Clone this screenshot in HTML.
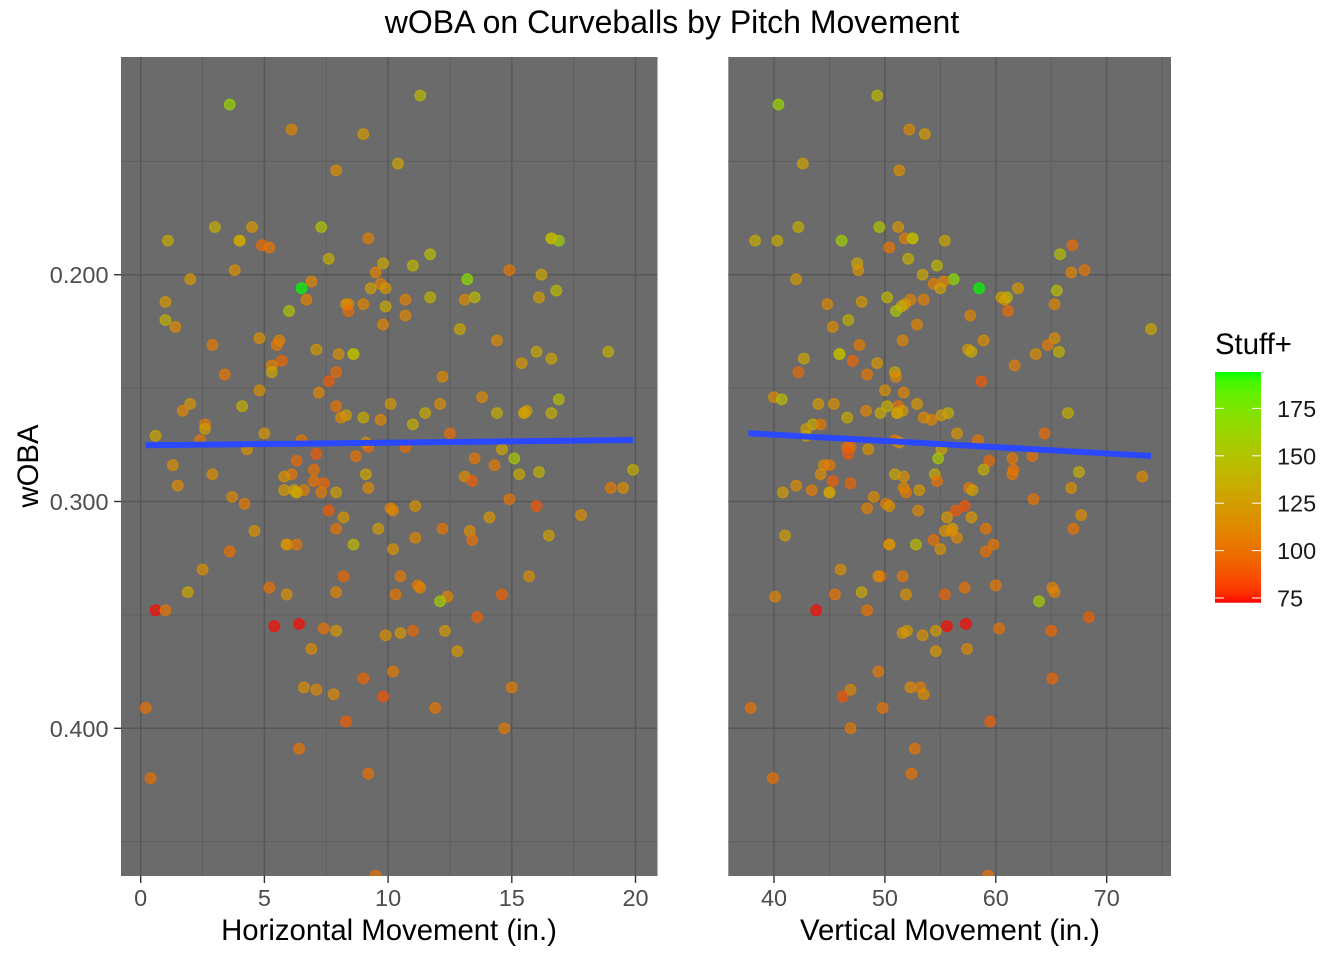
<!DOCTYPE html>
<html>
<head>
<meta charset="utf-8">
<title>wOBA on Curveballs by Pitch Movement</title>
<style>
html,body{margin:0;padding:0;background:#fff;width:1344px;height:960px;overflow:hidden}
svg{display:block}
text{font-family:"Liberation Sans",Arial,sans-serif}
</style>
</head>
<body>
<svg id="chart" width="1344" height="960" viewBox="0 0 1344 960" xmlns="http://www.w3.org/2000/svg">
  <defs>
    <clipPath id="clip-left"><rect x="121" y="57" width="536.5" height="819"/></clipPath>
    <clipPath id="clip-right"><rect x="728.3" y="57" width="442.7" height="819"/></clipPath>
    <linearGradient id="legend-gradient" x1="0" y1="1" x2="0" y2="0"></linearGradient>
  </defs>
  <rect x="0" y="0" width="1344" height="960" fill="#ffffff"/>
  <text x="672" y="33" font-size="32" text-anchor="middle" fill="#000">wOBA on Curveballs by Pitch Movement</text>
  <g id="panel-left">
    <rect x="121" y="57" width="536.5" height="819" fill="#6b6b6b"/>
    <g id="grid-left"></g>
    <g id="points-left" clip-path="url(#clip-left)"></g>
    <g id="trend-left" clip-path="url(#clip-left)"></g>
  </g>
  <g id="panel-right">
    <rect x="728.3" y="57" width="442.7" height="819" fill="#6b6b6b"/>
    <g id="grid-right"></g>
    <g id="points-right" clip-path="url(#clip-right)"></g>
    <g id="trend-right" clip-path="url(#clip-right)"></g>
  </g>
  <g id="axes"></g>
  <text x="0" y="0" transform="translate(38,466) rotate(-90)" font-size="29.33" text-anchor="middle" fill="#000">wOBA</text>
  <text x="389" y="940" font-size="29.33" text-anchor="middle" fill="#000">Horizontal Movement (in.)</text>
  <text x="950" y="940" font-size="29.33" text-anchor="middle" fill="#000">Vertical Movement (in.)</text>
  <g id="legend">
    <text x="1215" y="354" font-size="29.33" fill="#000">Stuff+</text>
    <rect x="1215" y="372" width="46" height="230.7" fill="url(#legend-gradient)"/>
  </g>
</svg>
<script>
var horizMovement = [
3.6,11.3,6.1,9.0,10.4,7.9,3.0,4.5,7.3,1.1,
4.0,4.0,16.9,9.2,16.6,16.6,4.9,5.2,7.6,11.7,
9.8,3.8,14.9,11.0,9.5,2.0,13.2,6.9,16.2,6.5,
9.7,9.3,9.9,16.8,6.7,10.7,13.1,1.0,8.3,8.4,
9.0,9.9,8.4,11.7,13.5,16.1,1.0,1.4,9.8,10.7,
6.0,12.9,4.8,14.4,5.6,5.5,2.9,7.1,16.0,18.9,
16.6,15.4,8.0,8.6,8.6,5.7,5.3,5.3,7.9,7.6,
12.2,3.4,4.8,7.2,13.8,16.9,2.0,10.1,12.1,7.9,
4.1,1.7,15.6,15.5,15.5,11.5,14.4,16.6,8.3,8.1,
9.0,9.7,11.0,2.6,2.6,0.6,5.0,12.5,2.4,6.5,
9.1,9.2,10.7,4.3,14.6,7.1,8.7,13.5,15.1,6.3,
1.3,14.3,7.0,19.9,16.1,2.9,6.1,9.1,15.3,5.8,
13.1,7.0,13.4,7.4,1.5,9.2,19.0,19.5,6.6,5.8,
6.2,6.3,6.3,7.9,7.3,3.7,14.9,4.2,16.0,11.1,
10.1,7.6,10.2,17.8,8.2,14.1,7.9,9.6,12.2,4.6,
13.3,16.5,11.1,13.4,5.9,5.9,6.3,8.6,10.2,3.6,
2.5,8.2,10.5,15.7,11.2,5.2,11.3,7.9,1.9,5.9,
10.3,14.6,12.4,12.1,0.6,1.0,13.6,6.4,5.4,7.4,
7.9,11.0,12.3,10.5,9.9,6.9,12.8,10.2,9.0,6.6,
15.0,7.1,7.8,9.8,0.2,11.9,8.3,14.7,6.4,9.2,
0.4,9.5
];
var vertMovement = [
40.4,49.3,52.2,53.6,42.6,51.3,42.2,51.2,49.5,38.3,
40.3,55.4,46.1,51.8,52.5,52.5,66.9,50.4,52.1,65.8,
47.5,47.6,68.0,54.7,66.8,42.0,56.2,55.3,53.4,58.5,
54.4,55.0,62.0,65.5,52.3,53.5,60.8,47.9,51.8,44.8,
65.3,51.5,61.1,50.2,61.0,60.5,46.7,45.3,52.9,57.7,
51.0,74.0,65.3,58.9,51.6,47.7,64.7,57.5,57.8,65.7,
42.7,49.3,63.6,45.9,45.9,47.1,61.7,50.9,42.2,58.7,
51.0,48.4,50.0,51.7,40.0,40.7,52.9,44.0,45.4,51.2,
50.2,48.3,51.6,51.1,51.1,49.6,55.7,66.5,55.1,53.5,
46.6,54.2,43.5,44.2,42.9,42.9,56.5,64.4,50.9,58.4,
51.3,46.9,46.6,48.5,55.1,46.7,63.3,61.5,54.8,59.4,
44.5,45.0,61.6,58.9,67.5,44.2,61.5,50.9,54.5,51.7,
73.2,54.7,45.3,46.9,42.0,51.7,57.6,66.8,43.4,53.1,
57.9,45.0,45.0,40.8,51.9,49.0,63.4,50.1,57.2,50.4,
48.4,56.4,53.0,67.7,55.6,57.8,59.1,56.1,67.0,55.4,
56.0,41.0,56.5,54.4,50.4,50.4,59.8,52.8,55.0,59.1,
46.0,49.6,51.6,49.4,60.0,57.2,65.1,65.3,47.9,51.9,
45.5,55.4,40.1,63.9,43.8,48.4,68.4,57.3,55.6,60.3,
54.6,65.0,52.0,51.6,53.4,57.4,54.6,49.4,65.1,52.3,
53.2,46.9,53.5,46.2,37.9,49.8,59.5,46.9,52.7,52.4,
39.9,59.3
];
var wobaValues = [
.125,.121,.136,.138,.151,.154,.179,.179,.179,.185,
.185,.185,.185,.184,.184,.184,.187,.188,.193,.191,
.195,.198,.198,.196,.199,.202,.202,.203,.200,.206,
.204,.206,.206,.207,.211,.211,.211,.212,.213,.213,
.213,.214,.216,.210,.210,.210,.220,.223,.222,.218,
.216,.224,.228,.229,.229,.231,.231,.233,.234,.234,
.237,.239,.235,.235,.235,.238,.240,.243,.243,.247,
.245,.244,.251,.252,.254,.255,.257,.257,.257,.258,
.258,.260,.260,.261,.261,.261,.261,.261,.262,.263,
.263,.264,.266,.266,.268,.271,.270,.270,.273,.273,
.274,.276,.276,.277,.277,.279,.280,.281,.281,.282,
.284,.284,.286,.286,.287,.288,.288,.288,.288,.289,
.289,.291,.291,.292,.293,.294,.294,.294,.295,.295,
.295,.296,.296,.296,.296,.298,.299,.301,.302,.302,
.303,.304,.304,.306,.307,.307,.312,.312,.312,.313,
.313,.315,.316,.317,.319,.319,.319,.319,.321,.322,
.330,.333,.333,.333,.337,.338,.338,.340,.340,.341,
.341,.341,.342,.344,.348,.348,.351,.354,.355,.356,
.357,.357,.357,.358,.359,.365,.366,.375,.378,.382,
.382,.383,.385,.386,.391,.391,.397,.400,.409,.420,
.422,.465
];
var stuffValues = [
163,143,112,122,128,116,135,120,150,133,
133,130,160,108,140,140,98,102,136,145,
130,118,103,140,110,120,168,110,130,194,
108,127,120,145,109,108,113,122,120,112,
110,132,98,140,142,125,138,113,110,110,
150,130,117,115,112,105,105,122,132,137,
128,120,115,142,142,95,108,130,97,90,
112,103,116,110,113,145,120,122,116,100,
135,110,122,127,127,132,135,135,125,113,
132,112,135,105,125,128,120,98,103,103,
118,98,98,118,128,90,100,103,155,97,
115,105,100,135,137,115,102,130,132,118,
114,100,92,95,115,114,105,116,106,122,
126,128,128,124,105,112,102,105,88,118,
108,90,112,115,120,120,102,124,102,118,
116,125,112,100,118,118,102,143,118,99,
116,95,104,116,105,100,108,110,130,117,
101,93,110,158,73,101,92,73,73,101,
122,95,122,120,116,114,120,105,95,114,
106,112,113,88,100,102,92,104,102,100,
99,100
];

var trendHorizX = [0.2, 19.9];
var trendHorizY = [0.2752, 0.2729];
var trendVertX = [37.7, 74.0];
var trendVertY = [0.2699, 0.2799];

var horizMajorTicks = [0, 5, 10, 15, 20];
var horizMinorTicks = [2.5, 7.5, 12.5, 17.5];
var vertMajorTicks = [40, 50, 60, 70];
var vertMinorTicks = [45, 55, 65, 75];
var wobaMajorTicks = [0.2, 0.3, 0.4];
var wobaMinorTicks = [0.15, 0.25, 0.35, 0.45];
var wobaTickLabels = ["0.200", "0.300", "0.400"];
var stuffTicks = [75, 100, 125, 150, 175];
var stuffRange = [72.5, 194];

var NS = "http://www.w3.org/2000/svg";
function xH(v) { return 140.7 + 24.74 * v; }
function xV(v) { return 774 + (v - 40) * 11.09; }
function yW(w) { return 274.7 + (w - 0.2) * 2268; }
function yS(s) { return 598 + (75 - s) * 1.896; }
function mk(tag, parent) {
  var e = document.createElementNS(NS, tag);
  parent.appendChild(e);
  return e;
}
function lab2rgb(L, a, b) {
  var fy = (L + 16) / 116, fx = fy + a / 500, fz = fy - b / 200;
  function f(t) { return t > 0.206893 ? t * t * t : (t - 16 / 116) / 7.787; }
  var X = 0.95047 * f(fx), Y = f(fy), Z = 1.08883 * f(fz);
  var r = 3.2406 * X - 1.5372 * Y - 0.4986 * Z;
  var g = -0.9689 * X + 1.8758 * Y + 0.0415 * Z;
  var bl = 0.0557 * X - 0.2040 * Y + 1.0570 * Z;
  function c(u) {
    u = u <= 0.0031308 ? 12.92 * u : 1.055 * Math.pow(Math.max(u, 0), 1 / 2.4) - 0.055;
    return Math.max(0, Math.min(255, Math.round(u * 255)));
  }
  return "rgb(" + c(r) + "," + c(g) + "," + c(bl) + ")";
}
function stuffColor(s) {
  var t = (s - stuffRange[0]) / (stuffRange[1] - stuffRange[0]);
  t = Math.max(0, Math.min(1, t));
  return lab2rgb(53.24 + t * (87.73 - 53.24), 80.09 + t * (-86.18 - 80.09), 67.2 + t * (83.18 - 67.2));
}
function gridLine(parent, x1, y1, x2, y2, major) {
  var l = mk("line", parent);
  l.setAttribute("x1", x1);
  l.setAttribute("y1", y1);
  l.setAttribute("x2", x2);
  l.setAttribute("y2", y2);
  l.setAttribute("stroke", major ? "#575757" : "#5d5d5d");
  l.setAttribute("stroke-width", major ? 1.5 : 0.9);
  
  
}
function drawGrid(parent, xf, xMajor, xMinor, left, right) {
  var top = 57, bottom = 876;
  wobaMinorTicks.forEach(function (w) { gridLine(parent, left, yW(w), right, yW(w), false); });
  xMinor.forEach(function (v) { if (xf(v) < right) gridLine(parent, xf(v), top, xf(v), bottom, false); });
  wobaMajorTicks.forEach(function (w) { gridLine(parent, left, yW(w), right, yW(w), true); });
  xMajor.forEach(function (v) { gridLine(parent, xf(v), top, xf(v), bottom, true); });
}
function drawPoints(parent, xf, xs) {
  for (var i = 0; i < xs.length; i++) {
    var c = mk("circle", parent);
    c.setAttribute("cx", xf(xs[i]));
    c.setAttribute("cy", yW(wobaValues[i]));
    c.setAttribute("r", 5.3);
    c.setAttribute("fill", stuffColor(stuffValues[i]));
    c.setAttribute("fill-opacity", 0.68);
    c.setAttribute("stroke", stuffColor(stuffValues[i]));
    c.setAttribute("stroke-opacity", 0.68);
    c.setAttribute("stroke-width", 1.3);
    
    
  }
}
function drawTrend(parent, xf, xs, ys) {
  var l = mk("line", parent);
  l.setAttribute("x1", xf(xs[0]));
  l.setAttribute("y1", yW(ys[0]));
  l.setAttribute("x2", xf(xs[1]));
  l.setAttribute("y2", yW(ys[1]));
  l.setAttribute("stroke", "#2a48ff");
  l.setAttribute("stroke-width", 6);
  
  
}
function xAxis(parent, xf, ticks) {
  ticks.forEach(function (v) {
    var t = mk("line", parent);
    t.setAttribute("x1", xf(v));
    t.setAttribute("x2", xf(v));
    t.setAttribute("y1", 876);
    t.setAttribute("y2", 883);
    t.setAttribute("stroke", "#333333");
    t.setAttribute("stroke-width", 1.4);
    
    
    var s = mk("text", parent);
    s.setAttribute("x", xf(v));
    s.setAttribute("y", 906);
    s.setAttribute("font-size", 23.47);
    s.setAttribute("text-anchor", "middle");
    s.setAttribute("fill", "#4d4d4d");
    
    
    s.textContent = String(v);
  });
}

drawGrid(document.getElementById("grid-left"), xH, horizMajorTicks, horizMinorTicks, 121, 657.5);
drawGrid(document.getElementById("grid-right"), xV, vertMajorTicks, vertMinorTicks, 728.3, 1171);
drawPoints(document.getElementById("points-left"), xH, horizMovement);
drawPoints(document.getElementById("points-right"), xV, vertMovement);
drawTrend(document.getElementById("trend-left"), xH, trendHorizX, trendHorizY);
drawTrend(document.getElementById("trend-right"), xV, trendVertX, trendVertY);

var axes = document.getElementById("axes");
xAxis(axes, xH, horizMajorTicks);
xAxis(axes, xV, vertMajorTicks);
wobaMajorTicks.forEach(function (w, i) {
  var t = mk("line", axes);
  t.setAttribute("x1", 114);
  t.setAttribute("x2", 121);
  t.setAttribute("y1", yW(w));
  t.setAttribute("y2", yW(w));
  t.setAttribute("stroke", "#333333");
  t.setAttribute("stroke-width", 1.4);
  
  
  var s = mk("text", axes);
  s.setAttribute("x", 108.5);
  s.setAttribute("y", yW(w) + 8.5);
  s.setAttribute("font-size", 23.47);
  s.setAttribute("text-anchor", "end");
  s.setAttribute("fill", "#4d4d4d");
  
  
  s.textContent = wobaTickLabels[i];
});

var grad = document.getElementById("legend-gradient");
for (var k = 0; k <= 30; k++) {
  var st = mk("stop", grad);
  st.setAttribute("offset", k / 30);
  st.setAttribute("stop-color", stuffColor(stuffRange[0] + (stuffRange[1] - stuffRange[0]) * k / 30));
}
var legend = document.getElementById("legend");
stuffTicks.forEach(function (s) {
  var a = mk("line", legend);
  a.setAttribute("x1", 1215);
  a.setAttribute("x2", 1224);
  a.setAttribute("y1", yS(s));
  a.setAttribute("y2", yS(s));
  a.setAttribute("stroke", "#ffffff");
  a.setAttribute("stroke-width", 1);
  
  
  var b = mk("line", legend);
  b.setAttribute("x1", 1252);
  b.setAttribute("x2", 1261);
  b.setAttribute("y1", yS(s));
  b.setAttribute("y2", yS(s));
  b.setAttribute("stroke", "#ffffff");
  b.setAttribute("stroke-width", 1);
  
  
  var t = mk("text", legend);
  t.setAttribute("x", 1277);
  t.setAttribute("y", yS(s) + 8.5);
  t.setAttribute("font-size", 23.47);
  t.setAttribute("fill", "#1a1a1a");
  
  
  t.textContent = String(s);
});
</script>
</body>
</html>
